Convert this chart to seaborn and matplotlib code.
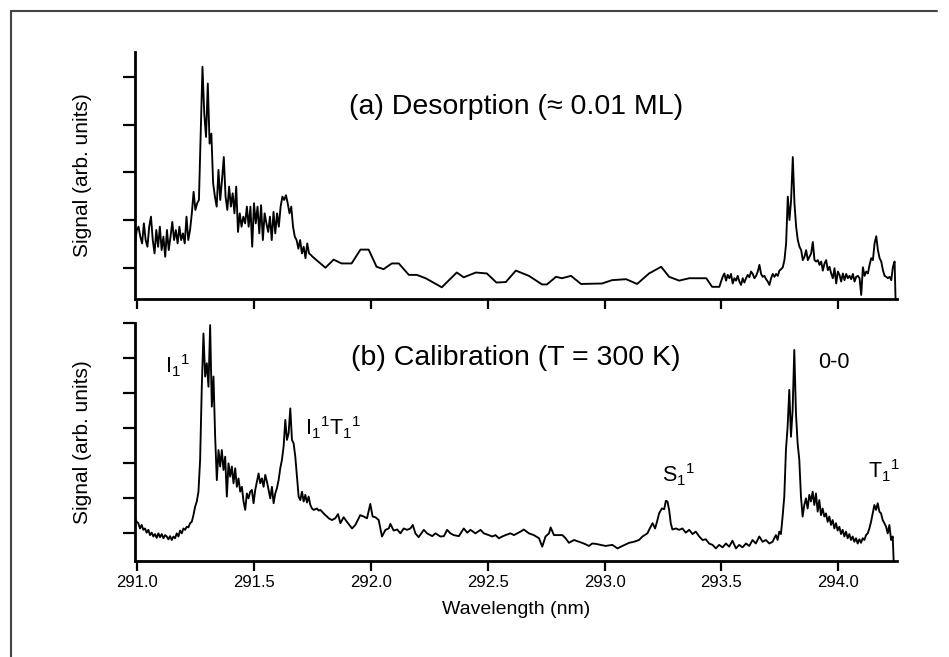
import numpy as np
import pandas as pd
import matplotlib
matplotlib.use("Agg")
import matplotlib.pyplot as plt
from matplotlib.lines import Line2D
import seaborn as sns

# ---------------- data ----------------
# (a) desorption spectrum -- noisy start, coarse middle, noisy end
top_a_range = (290.99, 291.75)
top_a_sig = [1.51, 1.79, 1.86, 1.65, 1.51, 1.93, 1.58, 1.44, 1.86, 2.07,
             1.58, 1.30, 1.79, 1.44, 1.86, 1.37, 1.65, 1.23, 1.79, 1.37,
             1.65, 1.96, 1.58, 1.79, 1.51, 1.86, 1.58, 1.72, 1.51, 2.07,
             1.58, 1.79, 2.14, 2.59, 2.21, 2.35, 2.42, 3.81, 5.21, 4.23,
             3.74, 4.86, 3.60, 3.81, 2.77, 2.49, 2.28, 3.05, 2.42, 2.84,
             3.32, 2.49, 2.21, 2.70, 2.28, 2.56, 2.14, 2.70, 1.75, 2.14,
             1.86, 2.07, 1.93, 2.28, 1.86, 2.28, 1.44, 2.35, 1.93, 2.28,
             1.72, 2.31, 1.58, 2.14, 1.93, 1.75, 2.07, 1.58, 2.17, 1.72,
             2.14, 1.86, 2.28, 2.49, 2.42, 2.52, 2.35, 2.14, 2.28, 1.86,
             1.65, 1.58, 1.40, 1.58, 1.30, 1.44, 1.20, 1.51, 1.30, 1.27,
             1.23]

top_mid_wl = [291.805, 291.84, 291.874, 291.917, 291.955, 291.99, 292.024, 292.054,
              292.089, 292.119, 292.162, 292.196, 292.234, 292.303, 292.367, 292.397,
              292.449, 292.496, 292.537, 292.577, 292.62, 292.676, 292.732, 292.753,
              292.792, 292.817, 292.856, 292.899, 292.989, 293.032, 293.092, 293.139,
              293.19, 293.242, 293.276, 293.319, 293.362, 293.435, 293.46]
top_mid_sig = [1.0, 1.17, 1.09, 1.09, 1.38, 1.38, 1.02, 0.97,
               1.09, 1.09, 0.85, 0.85, 0.78, 0.59, 0.90, 0.80,
               0.90, 0.88, 0.69, 0.70, 0.94, 0.83, 0.65, 0.65,
               0.81, 0.78, 0.83, 0.66, 0.67, 0.74, 0.76, 0.66,
               0.88, 1.02, 0.81, 0.73, 0.78, 0.78, 0.60]

top_c_range = (293.491, 294.241)
top_c_sig = [0.60, 0.71, 0.81, 0.88, 0.73, 0.85, 0.78, 0.87, 0.67, 0.78,
             0.73, 0.83, 0.71, 0.64, 0.78, 0.69, 0.78, 0.85, 0.80, 0.92,
             0.87, 0.78, 0.83, 0.92, 1.06, 0.87, 0.81, 0.83, 0.76, 0.71,
             0.64, 0.78, 0.87, 0.81, 0.87, 0.83, 0.94, 0.97, 1.01, 1.16,
             1.51, 2.49, 2.00, 2.42, 3.32, 2.35, 1.86, 1.58, 1.44, 1.37,
             1.16, 1.23, 1.37, 1.16, 1.23, 1.30, 1.54, 1.16, 1.13, 1.16,
             1.06, 1.13, 0.94, 1.09, 1.16, 0.95, 1.02, 0.88, 0.78, 0.99,
             0.67, 0.92, 0.85, 0.71, 0.88, 0.74, 0.87, 0.78, 0.83, 0.76,
             0.87, 0.71, 0.81, 0.83, 0.78, 0.43, 1.01, 0.83, 0.92, 0.88,
             1.06, 1.20, 1.16, 1.51, 1.66, 1.37, 1.20, 1.13, 0.95, 0.83,
             0.81, 0.78, 0.81, 0.74, 1.02, 1.13]
top_end = (294.245, 0.345)

# (b) calibration spectrum
bot_a_range = (290.99, 291.819)
bot_a_sig = [1.42, 1.32, 1.28, 1.13, 1.23, 1.09, 1.13, 1.01, 1.09, 0.94,
             1.01, 0.90, 0.97, 0.86, 0.99, 0.88, 0.97, 0.85, 0.94, 0.90,
             0.82, 0.91, 0.80, 0.90, 0.85, 0.99, 0.90, 1.07, 0.99, 1.13,
             1.09, 1.18, 1.16, 1.28, 1.32, 1.51, 1.75, 1.90, 2.18, 3.09,
             5.18, 6.70, 5.47, 5.85, 5.18, 6.94, 4.61, 5.47, 3.75, 2.51,
             3.37, 2.90, 3.37, 2.80, 3.18, 2.04, 2.99, 2.61, 2.90, 2.42,
             2.85, 2.32, 2.56, 2.18, 2.32, 1.90, 1.66, 2.13, 1.99, 2.18,
             2.23, 1.85, 2.23, 2.47, 2.70, 2.42, 2.56, 2.32, 2.66, 2.47,
             2.23, 1.99, 2.32, 1.85, 2.13, 2.28, 2.51, 2.85, 3.09, 3.47,
             4.23, 3.66, 3.85, 4.56, 3.66, 3.56, 3.18, 2.61, 2.04, 1.94,
             2.18, 1.90, 2.09, 1.87, 2.04, 1.80, 1.70, 1.66, 1.68, 1.70,
             1.64, 1.66, 1.61, 1.56, 1.51, 1.47, 1.42]

bot_mid_wl = [291.833, 291.847, 291.859, 291.869, 291.883, 291.897, 291.919, 291.933, 291.954, 291.969,
              291.983, 291.997, 292.007, 292.019, 292.033, 292.047, 292.062, 292.076, 292.083, 292.097,
              292.112, 292.126, 292.140, 292.154, 292.169, 292.179, 292.190, 292.204, 292.226, 292.240,
              292.262, 292.276, 292.297, 292.312, 292.326, 292.340, 292.354, 292.376, 292.397, 292.412,
              292.426, 292.447, 292.469, 292.483, 292.504, 292.519, 292.533, 292.547, 292.562, 292.576,
              292.597, 292.612, 292.626, 292.640, 292.654, 292.676, 292.697, 292.719, 292.733, 292.747,
              292.762, 292.769, 292.783, 292.804, 292.819, 292.833, 292.847, 292.869, 292.890, 292.911,
              292.933, 292.947, 292.962, 292.983, 293.004, 293.033, 293.055, 293.076, 293.105, 293.126,
              293.147, 293.162, 293.183, 293.197, 293.205, 293.216, 293.226, 293.233, 293.245, 293.255,
              293.262, 293.269, 293.276, 293.283, 293.290, 293.305, 293.319, 293.333, 293.347, 293.362,
              293.376, 293.390, 293.405, 293.419, 293.433, 293.447, 293.462, 293.476, 293.490, 293.505,
              293.519, 293.533, 293.547, 293.562, 293.576, 293.590, 293.605, 293.619, 293.633, 293.647,
              293.662, 293.676, 293.690, 293.705, 293.719]
bot_mid_sig = [1.37, 1.42, 1.54, 1.28, 1.45, 1.32, 1.13, 1.23, 1.51, 1.47,
               1.42, 1.83, 1.47, 1.45, 1.37, 0.90, 1.09, 1.13, 1.26, 1.07,
               1.10, 0.99, 1.13, 1.09, 1.13, 1.23, 0.99, 0.88, 1.09, 0.99,
               0.91, 0.99, 0.90, 0.91, 1.09, 0.99, 0.94, 0.91, 1.13, 1.01,
               1.09, 0.99, 1.09, 0.99, 0.94, 0.90, 0.94, 0.85, 0.90, 0.94,
               0.99, 0.94, 0.99, 1.04, 1.10, 0.99, 0.94, 0.85, 0.61, 0.90,
               0.99, 1.16, 0.94, 0.94, 0.94, 0.85, 0.72, 0.80, 0.75, 0.70,
               0.63, 0.70, 0.69, 0.66, 0.63, 0.66, 0.56, 0.63, 0.72, 0.75,
               0.80, 0.90, 0.99, 1.18, 1.28, 1.13, 1.37, 1.56, 1.70, 1.68,
               1.92, 1.90, 1.66, 1.28, 1.10, 1.13, 1.09, 1.13, 1.01, 1.09,
               0.97, 1.04, 0.90, 0.80, 0.82, 0.70, 0.66, 0.56, 0.66, 0.59,
               0.70, 0.61, 0.78, 0.56, 0.66, 0.59, 0.70, 0.63, 0.80, 0.70,
               0.90, 0.75, 0.80, 0.70, 0.75]

bot_c_range = (293.726, 294.233)
bot_c_sig = [0.85, 0.94, 0.80, 1.04, 0.97, 1.47, 2.04, 3.37, 4.04, 5.09,
             3.75, 4.51, 6.23, 4.42, 3.56, 3.09, 2.04, 1.47, 1.80, 1.99,
             1.70, 2.09, 1.90, 2.18, 1.80, 2.13, 1.61, 1.94, 1.51, 1.70,
             1.47, 1.56, 1.32, 1.47, 1.23, 1.37, 1.13, 1.28, 1.07, 1.18,
             0.97, 1.09, 0.90, 1.04, 0.85, 0.97, 0.80, 0.90, 0.75, 0.85,
             0.70, 0.82, 0.72, 0.85, 0.80, 0.94, 0.99, 1.13, 1.32, 1.56,
             1.80, 1.66, 1.85, 1.61, 1.56, 1.37, 1.28, 1.18, 0.99, 1.23,
             0.80, 0.90]
bot_end = (294.237, 0.2)

x_ticks = [291.0, 291.5, 292.0, 292.5, 293.0, 293.5, 294.0]
x_ticklabels = ["291.0", "291.5", "292.0", "292.5", "293.0", "293.5", "294.0"]

# peak labels (b): text, wavelength, signal
peak_labels = [(r"$\mathregular{I_1{}^1}$", 291.119, 5.57),
               (r"$\mathregular{I_1{}^1T_1{}^1}$", 291.717, 3.80),
               (r"$\mathregular{S_1{}^1}$", 293.244, 2.46),
               ("0-0", 293.913, 5.71),
               (r"$\mathregular{T_1{}^1}$", 294.126, 2.57)]


def build(seg_a, sig_a, mid_wl, mid_sig, seg_c, sig_c, end):
    wl = list(np.linspace(seg_a[0], seg_a[1], len(sig_a))) + list(mid_wl) + \
         list(np.linspace(seg_c[0], seg_c[1], len(sig_c))) + [end[0]]
    sig = list(sig_a) + list(mid_sig) + list(sig_c) + [end[1]]
    return pd.DataFrame({"wl": wl, "sig": sig})


df_a = build(top_a_range, top_a_sig, top_mid_wl, top_mid_sig, top_c_range, top_c_sig, top_end)
df_b = build(bot_a_range, bot_a_sig, bot_mid_wl, bot_mid_sig, bot_c_range, bot_c_sig, bot_end)

# ---------------- style ----------------
sns.set_style("ticks")
plt.rcParams["font.family"] = ["Liberation Sans", "DejaVu Sans"]
plt.rcParams["mathtext.fontset"] = "custom"
plt.rcParams["mathtext.rm"] = "Liberation Sans"
plt.rcParams["text.color"] = "black"
plt.rcParams["axes.labelcolor"] = "black"
plt.rcParams["xtick.color"] = "black"
plt.rcParams["ytick.color"] = "black"

W, H = 949, 657
fig = plt.figure(figsize=(W / 100, H / 100), dpi=100)
ax_a = fig.add_axes([135 / W, 1 - 299 / H, 761.7 / W, 247 / H])
ax_b = fig.add_axes([135 / W, 1 - 561 / H, 761.7 / W, 238 / H])

for ax, df in [(ax_a, df_a), (ax_b, df_b)]:
    sns.lineplot(data=df, x="wl", y="sig", ax=ax, color="black", lw=1.35,
                 sort=False, estimator=None)
    ax.set_xlim(290.99, 294.25)
    ax.set_xticks(x_ticks)
    ax.set_xlabel("")
    ax.set_ylabel("")
    sns.despine(ax=ax, top=True, right=True)
    for s in ["left", "bottom"]:
        ax.spines[s].set_linewidth(2.0)
        ax.spines[s].set_color("black")
    ax.tick_params(axis="y", direction="out", length=8.5, width=1.6,
                   labelleft=False, color="black")
    ax.tick_params(axis="x", direction="out", length=7.2, width=1.6,
                   color="black", labelcolor="black", labelsize=12, pad=3)
    ax.text(-0.0683, 0.5, "Signal (arb. units)", transform=ax.transAxes,
            rotation=90, ha="center", va="center", fontsize=15, color="black")

ax_a.set_ylim(0.345, 5.52)
ax_a.set_yticks([1, 2, 3, 4, 5])
ax_a.set_xticklabels([])
ax_b.set_ylim(0.2, 7.0)
ax_b.set_yticks([1, 2, 3, 4, 5, 6, 7])
ax_b.set_xticklabels(x_ticklabels)
ax_b.set_xlabel("Wavelength (nm)", fontsize=14, labelpad=8, color="black")

ax_a.text(0.5, 0.779, "(a) Desorption (\u2248 0.01 ML)", transform=ax_a.transAxes,
          ha="center", va="center", fontsize=20.5, color="black")
ax_b.text(0.5, 0.855, "(b) Calibration (T = 300 K)", transform=ax_b.transAxes,
          ha="center", va="center", fontsize=20.5, color="black")

for txt, wx, wy in peak_labels:
    ax_b.text(wx, wy, txt, ha="left", va="baseline", fontsize=15.5, color="black")

# frame of the scanned figure
fig.add_artist(Line2D([11 / W, 11 / W], [0, 1 - 11 / H], transform=fig.transFigure,
                      color="#444444", lw=1.5))
fig.add_artist(Line2D([11 / W, 937 / W], [1 - 11 / H, 1 - 11 / H], transform=fig.transFigure,
                      color="#444444", lw=1.5))

fig.savefig("out.png", dpi=100)
